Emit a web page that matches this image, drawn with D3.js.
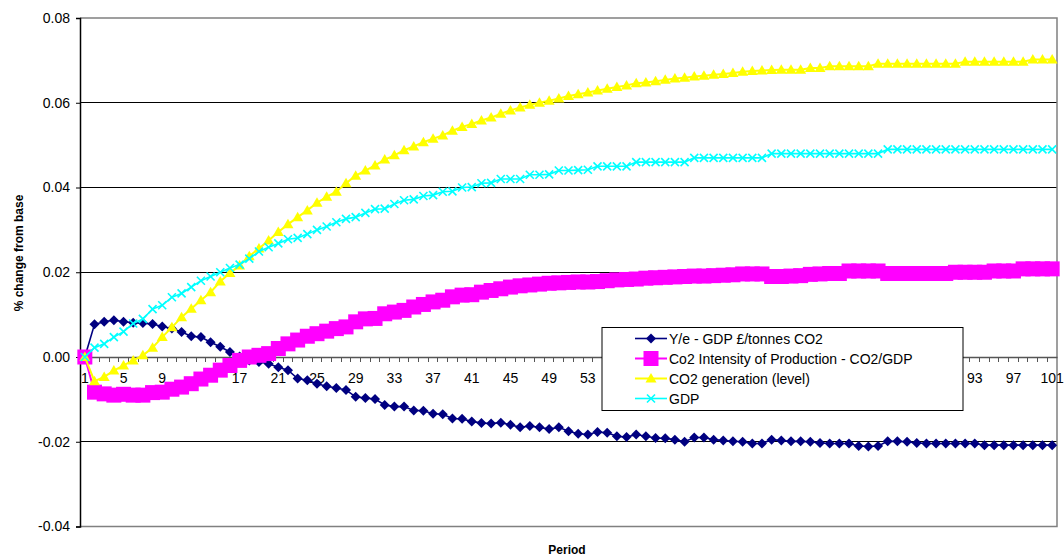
<!DOCTYPE html>
<html>
<head>
<meta charset="utf-8">
<script src="https://cdn.jsdelivr.net/npm/d3@7"></script>
<style>
  html, body { margin: 0; padding: 0; background: #fff; }
  svg { display: block; font-family: "Liberation Sans", Arial, sans-serif; }
</style>
</head>
<body>
<svg id="chart" width="1064" height="558"></svg>
<script>
// ---- data ----
const periods = d3.range(1, 102);
const xTickLabels = [1,5,9,13,17,21,25,29,33,37,41,45,49,53,57,61,65,69,73,77,81,85,89,93,97,101];
const yTicks = [-0.04, -0.02, 0.00, 0.02, 0.04, 0.06, 0.08];

const seriesNames = [
  "Y/e  - GDP £/tonnes CO2",
  "Co2 Intensity of Production - CO2/GDP",
  "CO2 generation (level)",
  "GDP"
];

const yePerCO2 = [
  0, 0.0077, 0.0083, 0.0087, 0.0083, 0.0081, 0.0080, 0.0078, 0.0072, 0.0067,
  0.0059, 0.0049, 0.0047, 0.0035, 0.0024, 0.0012, 0.0001, -0.0008, -0.0012, -0.0016,
  -0.0024, -0.0031, -0.0051, -0.0055, -0.0063, -0.0069, -0.0073, -0.0078, -0.0094, -0.0097,
  -0.0099, -0.0113, -0.0117, -0.0117, -0.0126, -0.0127, -0.0134, -0.0135, -0.0145, -0.0146,
  -0.0152, -0.0156, -0.0157, -0.0155, -0.0160, -0.0166, -0.0163, -0.0166, -0.0170, -0.0166,
  -0.0175, -0.0181, -0.0183, -0.0177, -0.0179, -0.0187, -0.0189, -0.0183, -0.0187, -0.0191,
  -0.0192, -0.0195, -0.0200, -0.0190, -0.0190, -0.0195, -0.0197, -0.0199, -0.0200, -0.0204,
  -0.0204, -0.0195, -0.0197, -0.0199, -0.0199, -0.0200, -0.0203, -0.0204, -0.0204, -0.0204,
  -0.0210, -0.0211, -0.0210, -0.0199, -0.0199, -0.0200, -0.0203, -0.0204, -0.0204, -0.0204,
  -0.0204, -0.0204, -0.0204, -0.0208, -0.0208, -0.0208, -0.0208, -0.0208, -0.0208, -0.0208,
  -0.0208
];

const co2Intensity = [
  0, -0.0083, -0.0087, -0.0090, -0.0088, -0.0090, -0.0090, -0.0084, -0.0083, -0.0076,
  -0.0071, -0.0063, -0.0052, -0.0043, -0.0031, -0.0020, -0.0008, 0.0000, 0.0004, 0.0008,
  0.0020, 0.0031, 0.0040, 0.0049, 0.0055, 0.0061, 0.0067, 0.0071, 0.0083, 0.0090,
  0.0091, 0.0102, 0.0106, 0.0110, 0.0118, 0.0124, 0.0130, 0.0134, 0.0142, 0.0146,
  0.0147, 0.0153, 0.0157, 0.0161, 0.0165, 0.0168, 0.0170, 0.0172, 0.0174, 0.0175,
  0.0176, 0.0177, 0.0177, 0.0178, 0.0180, 0.0182, 0.0183, 0.0184, 0.0186, 0.0187,
  0.0188, 0.0189, 0.0190, 0.0191, 0.0191, 0.0192, 0.0193, 0.0194, 0.0196, 0.0196,
  0.0196, 0.0190, 0.0190, 0.0191, 0.0192, 0.0195, 0.0196, 0.0197, 0.0197, 0.0203,
  0.0203, 0.0203, 0.0203, 0.0197, 0.0197, 0.0197, 0.0197, 0.0197, 0.0197, 0.0197,
  0.0200, 0.0200, 0.0200, 0.0200, 0.0203, 0.0203, 0.0203, 0.0208, 0.0208, 0.0208,
  0.0208
];

const co2Generation = [
  0, -0.0057, -0.0047, -0.0032, -0.0020, -0.0008, 0.0004, 0.0022, 0.0047, 0.0070,
  0.0094, 0.0114, 0.0134, 0.0153, 0.0178, 0.0198, 0.0216, 0.0238, 0.0256, 0.0275,
  0.0295, 0.0313, 0.0330, 0.0346, 0.0364, 0.0378, 0.0390, 0.0410, 0.0428, 0.0440,
  0.0452, 0.0466, 0.0476, 0.0488, 0.0497, 0.0507, 0.0515, 0.0523, 0.0534, 0.0543,
  0.0550, 0.0558, 0.0565, 0.0574, 0.0582, 0.0589, 0.0595, 0.0600, 0.0605, 0.0610,
  0.0616, 0.0620, 0.0624, 0.0629, 0.0633, 0.0637, 0.0641, 0.0646, 0.0648, 0.0651,
  0.0654, 0.0657, 0.0659, 0.0662, 0.0664, 0.0666, 0.0668, 0.0670, 0.0673, 0.0675,
  0.0676, 0.0677, 0.0678, 0.0678, 0.0678, 0.0682, 0.0682, 0.0686, 0.0686, 0.0686,
  0.0686, 0.0686, 0.0692, 0.0692, 0.0692, 0.0692, 0.0692, 0.0692, 0.0692, 0.0692,
  0.0692, 0.0697, 0.0697, 0.0697, 0.0697, 0.0697, 0.0697, 0.0697, 0.0702, 0.0702,
  0.0702
];

const gdp = [
  0, 0.0022, 0.0031, 0.0047, 0.0060, 0.0079, 0.0090, 0.0113, 0.0122, 0.0141,
  0.0150, 0.0165, 0.0180, 0.0190, 0.0200, 0.0210, 0.0218, 0.0232, 0.0249, 0.0259,
  0.0268, 0.0278, 0.0281, 0.0290, 0.0300, 0.0308, 0.0318, 0.0326, 0.0330, 0.0340,
  0.0349, 0.0350, 0.0361, 0.0370, 0.0372, 0.0380, 0.0382, 0.0390, 0.0391, 0.0400,
  0.0401, 0.0410, 0.0411, 0.0420, 0.0420, 0.0420, 0.0430, 0.0430, 0.0431, 0.0440,
  0.0440, 0.0441, 0.0442, 0.0450, 0.0450, 0.0450, 0.0450, 0.0460, 0.0460, 0.0460,
  0.0460, 0.0460, 0.0460, 0.0470, 0.0470, 0.0470, 0.0470, 0.0470, 0.0470, 0.0470,
  0.0470, 0.0480, 0.0480, 0.0480, 0.0480, 0.0480, 0.0480, 0.0480, 0.0480, 0.0480,
  0.0480, 0.0480, 0.0480, 0.0490, 0.0490, 0.0490, 0.0490, 0.0490, 0.0490, 0.0490,
  0.0490, 0.0490, 0.0490, 0.0490, 0.0490, 0.0490, 0.0490, 0.0490, 0.0490, 0.0490,
  0.0490
];

// ---- styles ----
const seriesStyles = [
  { color: "#000080", width: 1.6, marker: "diamond" },
  { color: "#FF00FF", width: 2,   marker: "square" },
  { color: "#FFFF00", width: 2,   marker: "triangle" },
  { color: "#00FFFF", width: 1.6, marker: "x" }
];
const seriesValues = [yePerCO2, co2Intensity, co2Generation, gdp];

// ---- layout ----
const svg = d3.select("#chart");
const plotLeft = 80, plotRight = 1057, plotTop = 18, plotBottom = 526.5;
const legendBox = { x: 602, y: 327.5, w: 361, h: 83 };

const x = d3.scaleBand().domain(periods).range([plotLeft, plotRight]).paddingInner(0).paddingOuter(0);
const cx = p => x(p) + x.bandwidth() / 2;
const y = d3.scaleLinear().domain([-0.04, 0.08]).range([plotBottom, plotTop]);

// gridlines
svg.append("g").selectAll("line")
  .data(yTicks.filter(v => v !== 0 && v !== 0.08 && v !== -0.04))
  .join("line")
  .attr("x1", plotLeft).attr("x2", plotRight)
  .attr("y1", d => y(d)).attr("y2", d => y(d))
  .attr("stroke", "#000").attr("stroke-width", 1)
  .attr("shape-rendering", "crispEdges");

// plot area border (top, right, bottom)
svg.append("path")
  .attr("d", `M${plotLeft},${y(0.08)}H${plotRight}V${y(-0.04)}H${plotLeft}`)
  .attr("fill", "none").attr("stroke", "#808080").attr("stroke-width", 1.5);

// y axis
const yAxis = svg.append("g")
  .attr("transform", `translate(${plotLeft},0)`)
  .call(d3.axisLeft(y).tickValues(yTicks).tickSize(4).tickPadding(6)
    .tickFormat(d => d.toFixed(2)));
yAxis.select(".domain").attr("stroke", "#000").attr("stroke-width", 1.5);
yAxis.selectAll("line").attr("stroke", "#000");
yAxis.selectAll("text").attr("font-size", 14).attr("fill", "#000")
  .attr("font-family", "Liberation Sans, Arial, sans-serif");

// x axis at y=0 (labels hidden behind the legend box are not drawn)
const y0 = y(0);
const visibleXLabels = xTickLabels.filter(p => {
  const px = cx(p);
  return px < legendBox.x - 8 || px > legendBox.x + legendBox.w + 8;
});
const xAxis = svg.append("g")
  .attr("transform", `translate(0,${y0})`)
  .call(d3.axisBottom(x).tickValues(visibleXLabels).tickSize(0).tickSizeOuter(0).tickPadding(16));
xAxis.select(".domain").attr("stroke", "#555").attr("stroke-width", 1.3);
xAxis.selectAll("text").attr("font-size", 14).attr("fill", "#000")
  .attr("font-family", "Liberation Sans, Arial, sans-serif");
// category boundary tick marks
svg.append("g").selectAll("line")
  .data(periods.slice(1))
  .join("line")
  .attr("x1", d => x(d)).attr("x2", d => x(d))
  .attr("y1", y0).attr("y2", y0 + 5)
  .attr("stroke", "#555").attr("stroke-width", 1)
  .attr("shape-rendering", "crispEdges");

// markers
function markerPath(type) {
  switch (type) {
    case "diamond": return "M0,-5L5,0L0,5L-5,0Z";
    case "square": return "M-7.5,-7.5H7.5V7.5H-7.5Z";
    case "triangle": return "M0,-5.5L5.5,4L-5.5,4Z";
    case "x": return "M-4,-4L4,4M-4,4L4,-4";
  }
}
function drawMarker(g, type, color) {
  const p = g.append("path").attr("d", markerPath(type));
  if (type === "x") p.attr("fill", "none").attr("stroke", color).attr("stroke-width", 1.6);
  else p.attr("fill", color).attr("stroke", "none");
}

const line = d3.line().x((d, i) => cx(periods[i])).y(d => y(d));

seriesValues.forEach((vals, si) => {
  const st = seriesStyles[si];
  const g = svg.append("g");
  g.append("path").datum(vals)
    .attr("d", line)
    .attr("fill", "none").attr("stroke", st.color).attr("stroke-width", st.width);
  g.selectAll("g.m").data(vals).join("g")
    .attr("class", "m")
    .attr("transform", (d, i) => `translate(${cx(periods[i])},${y(d)})`)
    .each(function() { drawMarker(d3.select(this), st.marker, st.color); });
});

// legend
const lg = svg.append("g");
lg.append("rect").attr("x", legendBox.x).attr("y", legendBox.y)
  .attr("width", legendBox.w).attr("height", legendBox.h)
  .attr("fill", "#fff").attr("stroke", "#000").attr("stroke-width", 1);
seriesNames.forEach((name, i) => {
  const st = seriesStyles[i];
  const yy = 338.5 + i * 20;
  lg.append("line").attr("x1", 635).attr("x2", 667).attr("y1", yy).attr("y2", yy)
    .attr("stroke", st.color).attr("stroke-width", st.width);
  const mg = lg.append("g").attr("transform", `translate(651,${yy})`);
  drawMarker(mg, st.marker, st.color);
  lg.append("text").attr("x", 669).attr("y", yy + 5)
    .attr("font-size", 14).attr("fill", "#000").text(name);
});

// axis titles
svg.append("text")
  .attr("transform", "translate(23,253) rotate(-90)")
  .attr("text-anchor", "middle").attr("font-size", 12).attr("font-weight", "bold")
  .text("% change from base");
svg.append("text")
  .attr("x", 567).attr("y", 554)
  .attr("text-anchor", "middle").attr("font-size", 12).attr("font-weight", "bold")
  .text("Period");
</script>
</body>
</html>
